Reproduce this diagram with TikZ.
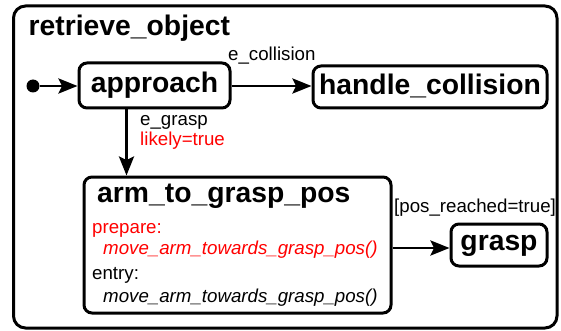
\documentclass[tikz,border=0pt]{standalone}
\usepackage{fontspec}
\setmainfont{Liberation Sans}
\usetikzlibrary{arrows.meta}
\definecolor{guardred}{RGB}{255,0,0}
\begin{document}
\begin{tikzpicture}[x=1pt,y=-1pt,
  bigfont/.style={font=\fontsize{28.3}{32}\selectfont\bfseries},
  statebox/.style={draw, line width=3pt, rounded corners=8pt, inner sep=0pt,
    bigfont, text depth=0pt},
  txt/.style={inner sep=0pt, anchor=base west, font=\fontsize{18.7}{22}\selectfont},
  txtit/.style={inner sep=0pt, anchor=base west, font=\fontsize{18.7}{22}\selectfont\itshape},
  flow/.style={line width=2.8pt, -{Stealth[length=19pt,width=15pt,inset=3.5pt]}},
]
\useasboundingbox (0,0) rectangle (561,331);

% composite state frame
\draw[line width=3pt, rounded corners=12pt] (13.5,6) rectangle (557,328);
\node[txt, bigfont] (title) at (28.5,36) {retrieve\_object};

% states
\node[statebox, text height=15pt, minimum width=151pt, minimum height=45pt]
  (approach) at (154.5,85.5) {approach};
\node[statebox, text height=16pt, minimum width=234pt, minimum height=42pt]
  (handle) at (430,87) {handle\_collision};
\node[statebox, minimum width=307pt, minimum height=136pt]
  (arm) at (237.5,245) {};
\node[statebox, text height=10pt, minimum width=96pt, minimum height=42pt]
  (grasp) at (499,245) {grasp};

% contents of arm_to_grasp_pos
\node[txt, bigfont] (armtitle) at (97,202) {arm\_to\_grasp\_pos};
\node[txt, text=guardred] (prep) at (92,233) {prepare:};
\node[txtit, text=guardred] (prepact) at (103,254) {move\_arm\_towards\_grasp\_pos()};
\node[txt] (entry) at (92,279) {entry:};
\node[txtit] (entryact) at (103,302) {move\_arm\_towards\_grasp\_pos()};

% initial pseudo-state
\node[circle, fill, inner sep=0pt, minimum size=13pt] (init) at (33,86) {};

% transitions
\draw[flow] (init) -- (init -| approach.west);
\draw[flow] (approach.east |- 0,86) coordinate (collstart) -- (collstart -| handle.west);
\draw[flow] ([xshift=49pt]approach.south west) -- ([xshift=44pt]arm.north west);
\draw[flow] ([yshift=-3pt]arm.east) -- ([yshift=-3pt]arm.east -| grasp.west);

% transition labels
\node[txt] (lblcoll) at (228,60.7) {e\_collision};
\node[txt] (lblgrasp) at (140,126) {e\_grasp};
\node[txt, text=guardred] (lbllikely) at (140,146) {likely=true};
\node[txt] (lblreach) at (394,212.7) {[pos\_reached=true]};
\end{tikzpicture}
\end{document}
